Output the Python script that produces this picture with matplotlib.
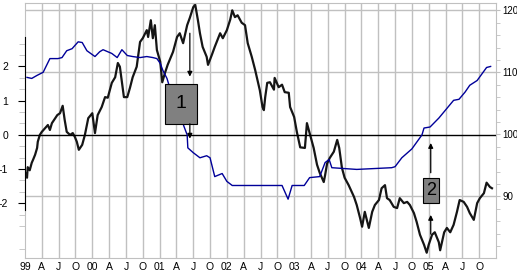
import matplotlib
matplotlib.use("Agg")
import matplotlib.pyplot as plt
from matplotlib.patches import Rectangle
import numpy as np

plt.rcParams["font.family"] = ["Liberation Sans", "DejaVu Sans"]
plt.rcParams["font.size"] = 7.5

# blue indicator (left axis)
blue_t = [1999.03, 1999.10, 1999.18, 1999.27, 1999.37, 1999.49, 1999.55, 1999.62, 1999.70,
          1999.74, 1999.79, 1999.85, 1999.92, 2000.04, 2000.11, 2000.16, 2000.29, 2000.37,
          2000.44, 2000.52, 2000.60, 2000.71, 2000.81, 2000.90, 2000.96, 2001.01, 2001.05,
          2001.11, 2001.15, 2001.23, 2001.30, 2001.36, 2001.41, 2001.42, 2001.50, 2001.60,
          2001.70, 2001.75, 2001.82, 2001.93, 2002.00, 2002.08, 2002.82, 2002.91, 2002.97,
          2003.15, 2003.23, 2003.38, 2003.46, 2003.52, 2003.56, 2003.93, 2004.45, 2004.50,
          2004.60, 2004.75, 2004.90, 2004.93, 2005.02, 2005.15, 2005.37, 2005.45, 2005.54,
          2005.61, 2005.72, 2005.86, 2005.92]
blue_v = [1.68, 1.65, 1.74, 1.83, 2.23, 2.23, 2.26, 2.46, 2.52,
          2.61, 2.72, 2.70, 2.46, 2.29, 2.43, 2.49, 2.38, 2.26,
          2.49, 2.32, 2.29, 2.26, 2.29, 2.26, 2.23, 2.09, 1.88,
          1.65, 1.39, 1.01, 0.64, 0.26, 0.00, -0.38, -0.52, -0.67,
          -0.61, -0.67, -1.22, -1.13, -1.36, -1.48, -1.48, -1.88, -1.48,
          -1.48, -1.25, -1.22, -0.81, -0.72, -0.96, -1.01, -0.96, -0.93,
          -0.67, -0.41, 0.00, 0.20, 0.23, 0.49, 1.01, 1.04, 1.25,
          1.45, 1.59, 1.97, 2.00]

# black price series (right axis)
price_t = [1999.00, 1999.03, 1999.04, 1999.07, 1999.10, 1999.12, 1999.15, 1999.18, 1999.19,
           1999.22, 1999.25, 1999.30, 1999.34, 1999.37, 1999.40, 1999.45, 1999.48, 1999.52,
           1999.56, 1999.59, 1999.62, 1999.67, 1999.71, 1999.74, 1999.77, 1999.80, 1999.85,
           1999.89, 1999.94, 2000.00, 2000.04, 2000.08, 2000.14, 2000.19, 2000.23, 2000.29,
           2000.34, 2000.38, 2000.41, 2000.44, 2000.47, 2000.52, 2000.56, 2000.60, 2000.66,
           2000.71, 2000.75, 2000.81, 2000.83, 2000.87, 2000.90, 2000.93, 2000.96, 2001.01,
           2001.04, 2001.08, 2001.12, 2001.20, 2001.26, 2001.30, 2001.35, 2001.41, 2001.45,
           2001.50, 2001.53, 2001.57, 2001.60, 2001.64, 2001.70, 2001.72, 2001.78, 2001.82,
           2001.90, 2001.94, 2002.00, 2002.05, 2002.08, 2002.12, 2002.16, 2002.22, 2002.27,
           2002.31, 2002.37, 2002.42, 2002.49, 2002.53, 2002.55, 2002.57, 2002.60, 2002.64,
           2002.70, 2002.71, 2002.77, 2002.82, 2002.86, 2002.92, 2002.94, 2003.00, 2003.04,
           2003.09, 2003.16, 2003.19, 2003.23, 2003.29, 2003.34, 2003.38, 2003.44, 2003.46,
           2003.49, 2003.53, 2003.59, 2003.64, 2003.67, 2003.71, 2003.75, 2003.81, 2003.89,
           2003.93, 2003.98, 2004.01, 2004.05, 2004.11, 2004.16, 2004.20, 2004.26, 2004.30,
           2004.35, 2004.38, 2004.42, 2004.48, 2004.53, 2004.57, 2004.63, 2004.68, 2004.72,
           2004.78, 2004.82, 2004.87, 2004.93, 2004.97, 2005.00, 2005.05, 2005.09, 2005.15,
           2005.17, 2005.23, 2005.27, 2005.32, 2005.37, 2005.42, 2005.46, 2005.52, 2005.57,
           2005.61, 2005.67, 2005.72, 2005.76, 2005.82, 2005.86, 2005.91, 2005.94]
price_v = [93.9, 93.0, 94.7, 94.2, 95.4, 95.9, 96.7, 97.8, 98.8,
           99.9, 100.4, 101.0, 101.5, 100.7, 101.8, 102.6, 103.1, 103.4,
           104.6, 102.3, 100.4, 99.9, 100.2, 99.6, 98.8, 97.5, 98.3,
           99.9, 102.6, 103.4, 100.2, 103.1, 104.4, 106.0, 105.9, 108.3,
           109.2, 111.5, 110.9, 108.4, 106.0, 106.0, 107.5, 109.2, 110.9,
           114.9, 115.5, 116.8, 115.7, 118.4, 115.5, 117.6, 113.6, 111.7,
           108.4, 109.9, 111.2, 113.3, 115.7, 116.3, 114.7, 117.6, 118.8,
           120.5, 120.9, 118.4, 116.3, 114.1, 112.5, 111.2, 112.9, 114.1,
           116.3, 115.5, 116.8, 118.5, 120.0, 118.9, 119.2, 118.0, 117.6,
           114.7, 112.5, 110.4, 107.1, 104.4, 103.9, 106.0, 108.3, 108.4,
           107.2, 109.1, 107.6, 108.0, 106.8, 106.7, 104.4, 102.8, 100.4,
           97.9, 97.8, 101.8, 100.2, 97.8, 95.1, 93.8, 92.3, 93.4,
           95.3, 96.2, 97.2, 99.1, 97.8, 94.6, 93.0, 91.8, 89.9,
           88.6, 86.5, 85.1, 87.5, 84.9, 87.5, 88.6, 89.4, 91.3,
           91.8, 89.7, 89.4, 88.3, 88.1, 89.7, 88.9, 89.1, 88.6,
           87.3, 85.9, 83.8, 82.2, 80.9, 82.2, 83.8, 84.2, 82.6,
           81.3, 84.2, 84.9, 84.2, 85.4, 87.5, 89.4, 89.1, 88.3,
           87.3, 86.2, 88.9, 89.7, 90.5, 92.2, 91.5, 91.3]

quarter_labels = ["99", "A", "J", "O", "00", "A", "J", "O", "01", "A", "J", "O", "02", "A",
                  "J", "O", "03", "A", "J", "O", "04", "A", "J", "O", "05", "A", "J", "O"]
quarters = 1999 + np.arange(len(quarter_labels)) / 4

GRID = "#c0c0c0"

fig = plt.figure(figsize=(5.17, 2.75), dpi=100)
# price axes at the bottom, indicator axes drawn on top of it
ax2 = fig.add_axes([25 / 517, 17 / 275, 471 / 517, 255.5 / 275])
ax = fig.add_axes([25 / 517, 17 / 275, 471 / 517, 255.5 / 275], sharex=ax2)
ax.patch.set_visible(False)

ax2.set_xlim(1999, 2006)
ax2.set_ylim(80.05, 121.26)
ax.set_ylim(-3.6, 3.87)

for q in quarters[1:]:
    ax2.axvline(q, color=GRID, lw=1, zorder=0)
for h in [90, 110, 120]:
    ax2.axhline(h, color=GRID, lw=1, zorder=0)

ax2.plot(price_t, price_v, color="#151515", lw=1.6, zorder=2)
ax.axhline(0, color="black", lw=1, zorder=1)
ax.plot(blue_t, blue_v, color="#000099", lw=1, zorder=2)

# right axis
ax2.yaxis.tick_right()
ax2.set_yticks([90, 100, 110, 120])
ax2.set_yticks(np.arange(82, 121, 2), minor=True)
ax2.tick_params(axis="y", which="both", direction="out", length=3, color=GRID, pad=1.5,
                labelsize=7)
for s in ax2.spines.values():
    s.set_color(GRID)
ax2.set_xticks(quarters)
ax2.set_xticklabels(quarter_labels)
ax2.tick_params(axis="x", length=0, pad=3)

# left axis
ax.set_yticks([-2, -1, 0, 1, 2])
ax.set_yticklabels(["-2", "-1", "0", "1", "2"])
minor_left = [v / 3 for v in range(-10, 9) if v % 3 != 0]
ax.set_yticks(minor_left, minor=True)
ax.tick_params(axis="y", which="major", direction="out", length=5, color="black", pad=7)
ax.tick_params(axis="y", which="minor", direction="out", length=4, color=GRID)
ax.tick_params(axis="x", labelbottom=False, length=0)
for k in ["top", "right", "bottom"]:
    ax.spines[k].set_visible(False)
ax.spines["left"].set_bounds(-2.2, 2.85)
ax.spines["left"].set_color("black")

# annotations, placed in price coordinates
tr = ax2.transData
arrow = dict(arrowstyle="-|>", color="black", lw=0.9, mutation_scale=7, shrinkA=0, shrinkB=0)

ax.add_patch(Rectangle((2001.08, 101.7), 0.47, 6.4, facecolor="#808080",
                       edgecolor="black", lw=0.8, transform=tr, zorder=5))
ax.text(2001.315, 104.9, "1", transform=tr, ha="center", va="center", fontsize=14, zorder=6)
ax.annotate("", xy=(2001.45, 109.3), xytext=(2001.45, 116.3), xycoords=tr, textcoords=tr,
            arrowprops=arrow, zorder=6)
ax.annotate("", xy=(2001.45, 99.3), xytext=(2001.45, 101.7), xycoords=tr, textcoords=tr,
            arrowprops=arrow, zorder=6)

ax.add_patch(Rectangle((2004.91, 89.0), 0.24, 4.0, facecolor="#808080",
                       edgecolor="black", lw=0.8, transform=tr, zorder=5))
ax.text(2005.03, 91.0, "2", transform=tr, ha="center", va="center", fontsize=13, zorder=6)
ax.annotate("", xy=(2005.03, 98.6), xytext=(2005.03, 93.8), xycoords=tr, textcoords=tr,
            arrowprops=arrow, zorder=6)
ax.annotate("", xy=(2005.03, 87.0), xytext=(2005.03, 83.9), xycoords=tr, textcoords=tr,
            arrowprops=arrow, zorder=6)

fig.savefig("out.png", dpi=100)
